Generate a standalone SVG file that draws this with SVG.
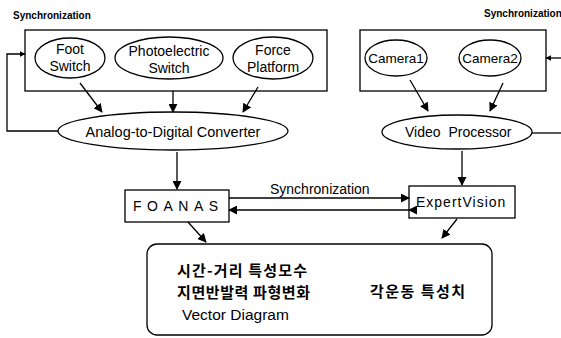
<svg xmlns="http://www.w3.org/2000/svg" width="561" height="338" viewBox="0 0 561 338">
<style>
.ln{fill:none;stroke:#000;stroke-width:1.3}
.sh{fill:#fff;stroke:#000;stroke-width:1.3}
.t{font-family:"Liberation Sans",Arial,sans-serif;fill:#000}
.s{font-family:"Liberation Sans",Arial,sans-serif;fill:#000;font-size:10px;font-weight:bold}
.k{font-family:"Noto Sans CJK KR","Liberation Sans",sans-serif;fill:#000;font-weight:bold;font-size:15px}
</style>
<defs>
<marker id="ah" viewBox="0 0 10 10" refX="9" refY="5" markerWidth="9" markerHeight="9" markerUnits="userSpaceOnUse" orient="auto"><path d="M0,0 L10,5 L0,10 z" fill="#000"/></marker>
<marker id="ahs" viewBox="0 0 10 10" refX="9" refY="5" markerWidth="6" markerHeight="6" markerUnits="userSpaceOnUse" orient="auto"><path d="M0,0 L10,5 L0,10 z" fill="#000"/></marker>
</defs>
<g id="labels">
<text class="s" x="13" y="19">Synchronization</text>
<text class="s" x="484" y="17">Synchronization</text>
</g>
<g id="sensor-box"><rect class="sh" x="25" y="30" width="302" height="61"/></g>
<g id="foot-switch"><ellipse class="sh" cx="70" cy="58" rx="35" ry="20"/><text class="t" x="70" y="54" font-size="14" text-anchor="middle">Foot</text><text class="t" x="70" y="71" font-size="14" text-anchor="middle">Switch</text></g>
<g id="photoelectric-switch"><ellipse class="sh" cx="169" cy="58" rx="54" ry="21"/><text class="t" x="169" y="56" font-size="14" text-anchor="middle">Photoelectric</text><text class="t" x="169" y="73" font-size="14" text-anchor="middle">Switch</text></g>
<g id="force-platform"><ellipse class="sh" cx="273" cy="58" rx="40" ry="21"/><text class="t" x="273" y="55" font-size="14" text-anchor="middle">Force</text><text class="t" x="273" y="72" font-size="14" text-anchor="middle">Platform</text></g>
<g id="camera-box"><rect class="sh" x="360" y="30" width="186" height="61"/></g>
<g id="camera1"><ellipse class="sh" cx="396" cy="58" rx="31" ry="18"/><text class="t" x="396" y="63" font-size="13.5" text-anchor="middle">Camera1</text></g>
<g id="camera2"><ellipse class="sh" cx="490" cy="58" rx="31" ry="18"/><text class="t" x="490" y="63" font-size="13.5" text-anchor="middle">Camera2</text></g>
<g id="adc"><ellipse class="sh" cx="173" cy="131" rx="115" ry="19"/><text class="t" x="173" y="137" font-size="14.5" text-anchor="middle">Analog-to-Digital Converter</text></g>
<g id="video-processor"><ellipse class="sh" cx="457" cy="132" rx="75" ry="17"/><text class="t" x="405" y="137" font-size="14" word-spacing="4">Video Processor</text></g>
<g id="foanas"><rect class="sh" x="125" y="190" width="104" height="32"/><text class="t" x="133" y="211" font-size="14" letter-spacing="5.5">FOANAS</text></g>
<g id="expertvision"><rect class="sh" x="409" y="186" width="106" height="32"/><text class="t" x="416" y="207" font-size="14" letter-spacing="1">ExpertVision</text></g>
<g id="results"><rect class="sh" x="147" y="244" width="345" height="91" rx="10"/>
<text class="k" x="177" y="276" textLength="130">시간-거리 특성모수</text>
<text class="k" x="177" y="298" textLength="133">지면반발력 파형변화</text>
<text class="t" x="182" y="320" font-size="15.5">Vector Diagram</text>
<text class="k" x="370" y="297" textLength="95">각운동 특성치</text>
</g>
<g id="connectors">
<line class="ln" x1="80" y1="83" x2="102" y2="112" marker-end="url(#ah)"/>
<line class="ln" x1="173" y1="91" x2="173" y2="112" marker-end="url(#ah)"/>
<line class="ln" x1="258" y1="87" x2="243" y2="112" marker-end="url(#ah)"/>
<polyline class="ln" points="58,131 7,131 7,54 25,54" marker-end="url(#ahs)"/>
<line class="ln" x1="177" y1="152" x2="177" y2="189" marker-end="url(#ah)"/>
<line class="ln" x1="410" y1="80" x2="428" y2="111" marker-end="url(#ah)"/>
<line class="ln" x1="503" y1="83" x2="490" y2="111" marker-end="url(#ah)"/>
<line class="ln" x1="561" y1="58" x2="546" y2="58" marker-end="url(#ahs)"/>
<line class="ln" x1="532" y1="133" x2="561" y2="133"/>
<line class="ln" x1="462" y1="151" x2="462" y2="185" marker-end="url(#ah)"/>
<line class="ln" x1="229" y1="198" x2="409" y2="198" marker-end="url(#ah)"/>
<line class="ln" x1="409" y1="210" x2="229" y2="210" marker-start="url(#ah)" marker-end="url(#ah)"/>
<text class="t" x="270" y="194" font-size="14">Synchronization</text>
<line class="ln" x1="188" y1="222" x2="206" y2="242" marker-end="url(#ah)"/>
<line class="ln" x1="457" y1="219" x2="442" y2="238" marker-end="url(#ah)"/>
</g>
</svg>
